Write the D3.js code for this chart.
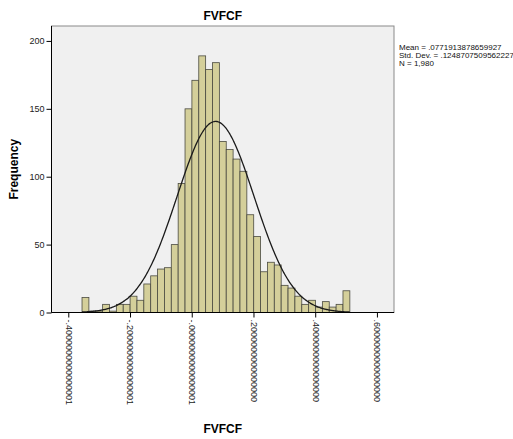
<!DOCTYPE html>
<html><head><meta charset="utf-8">
<script src="https://cdn.jsdelivr.net/npm/d3@7"></script>
<style>body{margin:0;background:#fff}svg{display:block}text{font-family:"Liberation Sans",Arial,sans-serif}</style>
</head><body><div id="c"></div>
<script>
const binStart = -0.3555;
const binWidth = 0.02225;
const counts = [11,1,1,6,1,6,6,12,9,21,27,32,33,50,95,150,171,189,179,184,126,120,113,104,72,56,30,37,35,20,18,12,6,9,4,8,4,6,16];
const xTicks = [-0.4,-0.2,0,0.2,0.4,0.6];
const xTickLabels = ["-.4000000000000001","-.2000000000000001","-.0000000000000001",".2000000000000000",".4000000000000000",".6000000000000000"];
const yTicks = [0,50,100,150,200];
const stats = {mean:0.0771913878659927, sd:0.1248707509562227, n:1980};
const legendLines = ["Mean = .0771913878659927","Std. Dev. = .1248707509562227","N = 1,980"];

const W=513,H=439;
const svg=d3.select("#c").append("svg").attr("width",W).attr("height",H);
const L=51.5,R=394,T=26,B=312.5;
const x=d3.scaleLinear().domain([-0.4544,0.6553]).range([L,R]);
const y=d3.scaleLinear().domain([0,211]).range([B,T]);

svg.append("rect").attr("x",L).attr("y",T).attr("width",R-L).attr("height",B-T)
  .attr("fill","#f0f0f0").attr("stroke","#8a8a8a").attr("stroke-width",1);

const bins=counts.map((c,i)=>({x0:binStart+i*binWidth,x1:binStart+(i+1)*binWidth,c}));
svg.append("g").selectAll("rect").data(bins.filter(d=>d.c>0)).join("rect")
  .attr("x",d=>x(d.x0)).attr("width",d=>x(d.x1)-x(d.x0))
  .attr("y",d=>y(d.c)).attr("height",d=>y(0)-y(d.c))
  .attr("fill","#d4cf9a").attr("stroke","#4a4a40").attr("stroke-width",0.8);

// normal curve
const pts=d3.range(0,301).map(i=>{
  const v=binStart+ (counts.length*binWidth)*i/300;
  const dens=Math.exp(-0.5*Math.pow((v-stats.mean)/stats.sd,2))/(stats.sd*Math.sqrt(2*Math.PI));
  return [v,stats.n*binWidth*dens];
});
svg.append("path").datum(pts).attr("fill","none").attr("stroke","#1a1a1a").attr("stroke-width",1.3)
  .attr("d",d3.line().x(d=>x(d[0])).y(d=>y(d[1])).curve(d3.curveBasis));

// axes
const ya=svg.append("g").attr("transform",`translate(${L},0)`)
  .call(d3.axisLeft(y).tickValues(yTicks).tickSize(5).tickPadding(2));
ya.select(".domain").attr("d",`M0,${T}V${B}`).attr("stroke","#000");
ya.selectAll("text").attr("font-size",9).attr("fill","#222").style("font-family","Liberation Sans, Arial, sans-serif");

const xa=svg.append("g").attr("transform",`translate(0,${B})`)
  .call(d3.axisBottom(x).tickValues(xTicks).tickSize(5).tickFormat((d,i)=>xTickLabels[i]));
xa.select(".domain").attr("d",`M${L},0H${R}`).attr("stroke","#000");
xa.selectAll("text").attr("font-size",9).attr("fill","#222").style("font-family","Liberation Sans, Arial, sans-serif")
  .attr("transform","rotate(90)").attr("x",7).attr("y",0).attr("dy","0.35em").attr("text-anchor","start");

svg.append("text").attr("x",(L+R)/2).attr("y",20).attr("text-anchor","middle")
  .attr("font-size",12).attr("font-weight","bold").text("FVFCF");
svg.append("text").attr("x",(L+R)/2).attr("y",433).attr("text-anchor","middle")
  .attr("font-size",12).attr("font-weight","bold").text("FVFCF");
svg.append("text").attr("transform",`translate(18,${(T+B)/2}) rotate(-90)`).attr("text-anchor","middle")
  .attr("font-size",12).attr("font-weight","bold").text("Frequency");

svg.append("g").selectAll("text").data(legendLines).join("text")
  .attr("x",399).attr("y",(d,i)=>49.5+i*8.3).attr("font-size",8).attr("fill","#111").text(d=>d);
</script></body></html>
